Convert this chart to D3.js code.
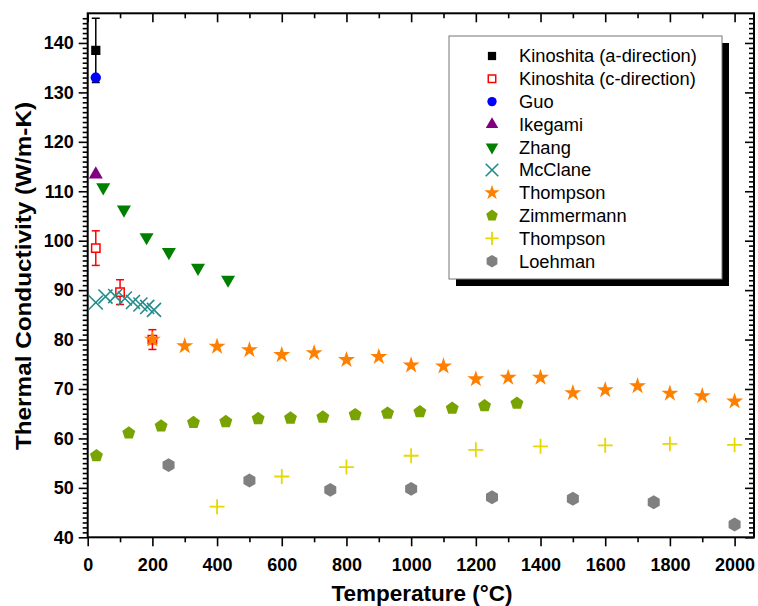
<!DOCTYPE html>
<html lang="en">
<head>
  <meta charset="UTF-8">
  <title>Thermal Conductivity</title>
  <script src="https://d3js.org/d3.v7.min.js"></script>
  <style>
    body { margin: 0; background: #fff; }
    text { font-family: Arial, "Liberation Sans", sans-serif; }
  </style>
</head>
<body>
  <svg id="chart" width="758" height="606"></svg>

  <script>
    // values (x in °C, y in W/m-K)
    const kinoA = [{ t: 25, k: 138.5, err: 6.5 }];
    const kinoC = [{ t: 25, k: 98.5, err: 3.5 }, { t: 100, k: 89.6, err: 2.5 }, { t: 200, k: 80.0, err: 2.0 }];
    const guo = [{ t: 25, k: 133.0 }];
    const ikegami = [{ t: 25, k: 113.4 }];
    const zhangT = [48, 112, 182, 251, 341, 434];
    const zhangK = [110.8, 106.3, 100.7, 97.7, 94.5, 92.1];
    const mcclaneT = [25, 55, 85, 115, 140, 163, 184, 205];
    const mcclaneK = [87.5, 88.7, 88.8, 88.3, 87.6, 87.1, 86.6, 86.0];
    const thompsonT = [200, 300, 400, 500, 600, 700, 800, 900, 1000, 1100, 1200, 1300, 1400, 1500, 1600, 1700, 1800, 1900, 2000];
    const thompsonK = [80.0, 78.7, 78.6, 77.9, 76.9, 77.3, 75.9, 76.5, 74.8, 74.6, 72.0, 72.3, 72.3, 69.2, 69.8, 70.6, 69.1, 68.6, 67.5];
    const zimmerT = [27, 127, 227, 327, 427, 527, 627, 727, 827, 927, 1027, 1127, 1227, 1327];
    const zimmerK = [56.5, 61.1, 62.5, 63.2, 63.4, 64.0, 64.1, 64.3, 64.8, 65.1, 65.4, 66.1, 66.6, 67.1];
    const thompson2T = [400, 600, 800, 1000, 1200, 1400, 1600, 1800, 2000];
    const thompson2K = [46.2, 52.3, 54.2, 56.5, 57.7, 58.4, 58.6, 58.9, 58.7];
    const loehmanT = [250, 500, 750, 1000, 1250, 1500, 1750, 2000];
    const loehmanK = [54.6, 51.5, 49.6, 49.8, 48.1, 47.8, 47.1, 42.6];

    const xTicks = d3.range(0, 2001, 200);
    const xMinor = d3.range(100, 2060, 200);
    const yTicks = d3.range(40, 141, 10);
    const yMinor = d3.range(41, 146, 1).filter(v => v % 10 !== 0);

    const zip = (ts, ks) => ts.map((t, i) => ({ t, k: ks[i] }));

    // custom polygon symbols
    function polygon(n, rot) {
      return {
        draw(ctx, size) {
          const r = Math.sqrt(size / (0.5 * n * Math.sin(2 * Math.PI / n)));
          for (let i = 0; i < n; i++) {
            const a = rot + i * 2 * Math.PI / n;
            const px = r * Math.sin(a), py = -r * Math.cos(a);
            if (i === 0) ctx.moveTo(px, py); else ctx.lineTo(px, py);
          }
          ctx.closePath();
        }
      };
    }
    const symPentagon = polygon(5, 0);
    const symHexagon = polygon(6, 0);

    const series = [
      { name: "Kinoshita (a-direction)", data: kinoA, type: d3.symbolSquare, size: 85, fill: "#000", stroke: "none", errColor: "#000" },
      { name: "Kinoshita (c-direction)", data: kinoC, type: d3.symbolSquare, size: 70, fill: "#fff", stroke: "#ff0000", sw: 1.5, errColor: "#ff0000" },
      { name: "Guo", data: guo, type: d3.symbolCircle, size: 85, fill: "#0000ff", stroke: "none" },
      { name: "Ikegami", data: ikegami, type: d3.symbolTriangle, size: 85, fill: "#800080", stroke: "none" },
      { name: "Zhang", data: zip(zhangT, zhangK), type: d3.symbolTriangle, size: 85, fill: "#007f00", stroke: "none", rotate: 180 },
      { name: "McClane", data: zip(mcclaneT, mcclaneK), type: d3.symbolTimes, size: 130, fill: "none", stroke: "#238b8b", sw: 1.6 },
      { name: "Thompson", data: zip(thompsonT, thompsonK), type: d3.symbolStar, size: 90, fill: "#ff8000", stroke: "none" },
      { name: "Zimmermann", data: zip(zimmerT, zimmerK), type: symPentagon, size: 110, fill: "#79a300", stroke: "none" },
      { name: "Thompson", data: zip(thompson2T, thompson2K), type: d3.symbolPlus, size: 75, fill: "none", stroke: "#e6d800", sw: 1.8 },
      { name: "Loehman", data: zip(loehmanT, loehmanK), type: symHexagon, size: 125, fill: "#808080", stroke: "none" }
    ];

    const svg = d3.select("#chart");
    const pLeft = 87.7, pRight = 754, pTop = 13.3, pBottom = 537.3;

    const x = d3.scaleLinear().domain([0, 2060]).range([pLeft, pRight]);
    const y = d3.scaleLinear().domain([40, 146]).range([pBottom, pTop]);

    function styleAxis(g) {
      g.select(".domain").remove();
      g.selectAll(".tick line").attr("stroke", "#000").attr("stroke-width", 1.6);
      g.selectAll(".tick text")
        .attr("font-size", 18).attr("font-weight", "bold").attr("fill", "#000");
    }

    // bottom axis (outward ticks, labels)
    svg.append("g").attr("transform", `translate(0,${pBottom})`)
      .call(d3.axisBottom(x).tickValues(xTicks).tickSize(9).tickPadding(12).tickFormat(d3.format("d")))
      .call(styleAxis);
    svg.append("g").attr("transform", `translate(0,${pBottom})`)
      .call(d3.axisBottom(x).tickValues(xMinor).tickSize(5).tickFormat(""))
      .call(styleAxis);
    // top axis (inward)
    svg.append("g").attr("transform", `translate(0,${pTop})`)
      .call(d3.axisTop(x).tickValues(xTicks).tickSize(-9).tickFormat(""))
      .call(styleAxis);
    svg.append("g").attr("transform", `translate(0,${pTop})`)
      .call(d3.axisTop(x).tickValues(xMinor).tickSize(-5).tickFormat(""))
      .call(styleAxis);
    // left axis (outward)
    svg.append("g").attr("transform", `translate(${pLeft},0)`)
      .call(d3.axisLeft(y).tickValues(yTicks).tickSize(9).tickPadding(5))
      .call(styleAxis);
    svg.append("g").attr("transform", `translate(${pLeft},0)`)
      .call(d3.axisLeft(y).tickValues(yMinor).tickSize(5).tickFormat(""))
      .call(styleAxis);
    // right axis (inward)
    svg.append("g").attr("transform", `translate(${pRight},0)`)
      .call(d3.axisRight(y).tickValues(yTicks).tickSize(-9).tickFormat(""))
      .call(styleAxis);
    svg.append("g").attr("transform", `translate(${pRight},0)`)
      .call(d3.axisRight(y).tickValues(yMinor).tickSize(-5).tickFormat(""))
      .call(styleAxis);

    // frame
    svg.append("rect")
      .attr("x", pLeft).attr("y", pTop)
      .attr("width", pRight - pLeft).attr("height", pBottom - pTop)
      .attr("fill", "none").attr("stroke", "#000").attr("stroke-width", 2);

    // axis titles
    svg.append("text")
      .attr("x", 422).attr("y", 601)
      .attr("text-anchor", "middle")
      .attr("font-size", 22.5).attr("font-weight", "bold")
      .text("Temperature (°C)");
    svg.append("text")
      .attr("transform", `translate(31,276) rotate(-90) scale(1.08,1)`)
      .attr("text-anchor", "middle")
      .attr("font-size", 22.5).attr("font-weight", "bold")
      .text("Thermal Conductivity (W/m-K)");

    // data
    const plot = svg.append("g");
    series.forEach(s => {
      const g = plot.append("g");
      if (s.errColor) {
        const eb = g.selectAll("g.err").data(s.data).join("g")
          .attr("stroke", s.errColor).attr("stroke-width", 1.5);
        eb.append("line")
          .attr("x1", d => x(d.t)).attr("x2", d => x(d.t))
          .attr("y1", d => y(d.k + d.err)).attr("y2", d => y(d.k - d.err));
        eb.append("line")
          .attr("x1", d => x(d.t) - 4).attr("x2", d => x(d.t) + 4)
          .attr("y1", d => y(d.k + d.err)).attr("y2", d => y(d.k + d.err));
        eb.append("line")
          .attr("x1", d => x(d.t) - 4).attr("x2", d => x(d.t) + 4)
          .attr("y1", d => y(d.k - d.err)).attr("y2", d => y(d.k - d.err));
      }
      g.selectAll("path.mark").data(s.data).join("path")
        .attr("class", "mark")
        .attr("d", d3.symbol().type(s.type).size(s.size))
        .attr("transform", d => `translate(${x(d.t)},${y(d.k)})` + (s.rotate ? ` rotate(${s.rotate})` : ""))
        .attr("fill", s.fill)
        .attr("stroke", s.stroke)
        .attr("stroke-width", s.sw || 0);
    });

    // legend
    const lg = { x: 449, y: 36, w: 273, h: 243, row: 22.8, first: 56 };
    const legend = svg.append("g");
    legend.append("rect")
      .attr("x", lg.x + 7).attr("y", lg.y + 7).attr("width", lg.w).attr("height", lg.h)
      .attr("fill", "#000");
    legend.append("rect")
      .attr("x", lg.x).attr("y", lg.y).attr("width", lg.w).attr("height", lg.h)
      .attr("fill", "#fff").attr("stroke", "#777").attr("stroke-width", 1);
    const items = legend.selectAll("g.item").data(series).join("g")
      .attr("class", "item")
      .attr("transform", (d, i) => `translate(${lg.x},${lg.first + i * lg.row})`);
    items.append("path")
      .attr("d", d => d3.symbol().type(d.type).size(d.size * 0.8)())
      .attr("transform", d => `translate(43,0)` + (d.rotate ? ` rotate(${d.rotate})` : ""))
      .attr("fill", d => d.fill)
      .attr("stroke", d => d.stroke)
      .attr("stroke-width", d => d.sw || 0);
    items.append("text")
      .attr("x", 70).attr("dy", "0.35em")
      .attr("font-size", 18.3)
      .text(d => d.name);
  </script>
</body>
</html>
